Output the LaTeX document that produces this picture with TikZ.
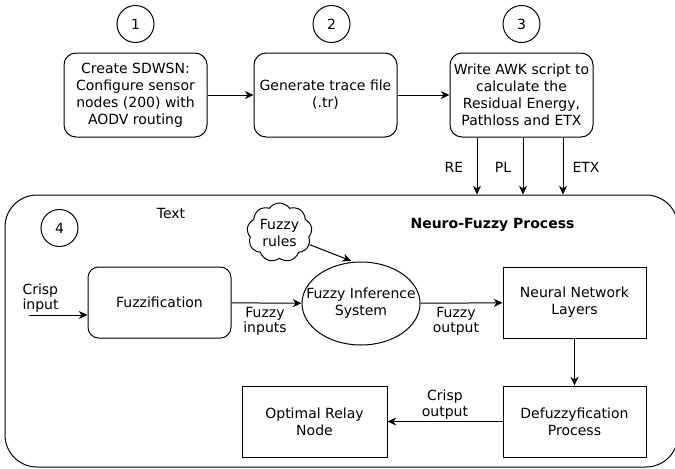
\documentclass[tikz,border=0pt]{standalone}
\usepackage{fontspec}
\setmainfont{DejaVu Sans}
\usetikzlibrary{arrows.meta,shapes.geometric,shapes.symbols,calc}

\begin{document}
\begin{tikzpicture}[x=0.75pt,y=-0.75pt,line width=0.75pt,
  font=\fontsize{10.5}{12.75}\selectfont,
  rbox/.style={draw,rounded corners=9pt,minimum width=107.25pt,minimum height=63pt,align=center,inner sep=0pt},
  fbox/.style={draw,rounded corners=8pt,minimum width=107.25pt,minimum height=53.25pt,align=center,inner sep=0pt},
  sbox/.style={draw,minimum width=107.25pt,minimum height=53.25pt,align=center,inner sep=0pt},
  num/.style={draw,circle,minimum size=27.75pt,inner sep=0pt},
  lbl/.style={align=center,inner sep=0pt,font=\fontsize{10.5}{11.75}\selectfont},
  arr/.style={-{Stealth[length=6.5pt,width=6pt,inset=2pt]}}]

\useasboundingbox (0,0) rectangle (675,468);
\clip (0,0) rectangle (675,468);

% step numbers
\node[num] (n1) at (135.5,24) {1};
\node[num] (n2) at (331.5,24) {2};
\node[num] (n3) at (521.5,24) {3};

% simulation steps
\node[rbox] (b1) at (135.5,95) {Create SDWSN:\\Configure sensor\\nodes (200) with\\AODV routing};
\node[rbox] (b2) at (325.5,95) {Generate trace file\\(.tr)};
\node[rbox] (b3) at (521.5,95) {Write AWK script to\\calculate the\\Residual Energy,\\Pathloss and ETX};

\draw[arr] (b1) -- (b2);
\draw[arr] (b2) -- (b3);

% neuro-fuzzy container
\node[draw,rounded corners=24pt,minimum width=504.75pt,minimum height=204pt,inner sep=0pt] (nf) at (341.5,331) {};
\node[num] (n4) at (59.5,228) {4};
\node[lbl] (tx) at (171,213) {Text};
\node[lbl,font=\fontsize{10.5}{12.75}\selectfont\bfseries] (title) at (492.5,225) {Neuro-Fuzzy Process};

% metrics into the process
\coordinate (re) at ($(b3.south)+(-44.5,0)$);
\coordinate (pl) at ($(b3.south)+(1.5,0)$);
\coordinate (etx) at ($(b3.south)+(41.5,0)$);
\draw[arr] (re) -- (re |- nf.north);
\draw[arr] (pl) -- (pl |- nf.north);
\draw[arr] (etx) -- (etx |- nf.north);
\node[lbl] (lre) at (454,167) {RE};
\node[lbl] (lpl) at (503,167) {PL};
\node[lbl] (letx) at (586,167) {ETX};

% process blocks
\node[fbox] (fz) at (159.5,302.5) {Fuzzification};
\node[draw,ellipse,minimum width=88.5pt,minimum height=62.25pt,inner xsep=-14pt,inner ysep=0pt,align=center] (fis) at (361,303.5) {Fuzzy Inference\\System};
\node[draw,cloud,cloud puffs=9,cloud puff arc=110,aspect=1.1,minimum width=48.75pt,minimum height=44.25pt,inner sep=0pt,align=center] (fr) at (279.5,232.5) {Fuzzy\\rules};
\node[sbox] (nn) at (574.5,302.5) {Neural Network\\Layers};
\node[sbox] (dz) at (574.5,421.5) {Defuzzyfication\\Process};
\node[sbox,minimum width=108.75pt] (op) at (314.5,421.5) {Optimal Relay\\Node};

% flow
\coordinate (ci) at (29,315);
\node[lbl,align=left,anchor=west] (lci) at (22,298) {Crisp\\input};
\draw[arr] (ci) -- (ci -| fz.west);
\draw[arr] (fz) -- (fis);
\node[lbl] (lfi) at (265,321.5) {Fuzzy\\inputs};
\draw[arr,shorten >=2pt] (fr.-22) -- (fis.100);
\draw[arr] (fis) -- (nn);
\node[lbl] (lfo) at (456,321.5) {Fuzzy\\output};
\draw[arr] (nn) -- (dz);
\draw[arr] (dz) -- (op);
\node[lbl] (lco) at (445,404.5) {Crisp\\output};

\end{tikzpicture}
\end{document}
